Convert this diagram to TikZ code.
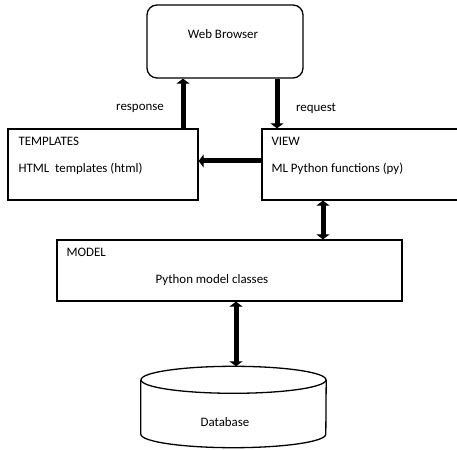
\documentclass[tikz,border=0pt]{standalone}
\usepackage{fontspec}
\setmainfont{Carlito}
\usetikzlibrary{arrows.meta}

\begin{document}
\begin{tikzpicture}[x=1pt, y=1pt,
  every node/.style={font=\fontsize{12.9}{15}\selectfont},
  box/.style={draw, line width=1.3pt, inner sep=0pt},
  txt/.style={inner sep=0pt, anchor=west},
  flow/.style={line width=5pt, -{Triangle[width=13pt,length=5pt]}},
  flowboth/.style={line width=5pt, {Triangle[width=13pt,length=5pt]}-{Triangle[width=13pt,length=5pt]}}]
\useasboundingbox (0,0) rectangle (457,449);
% boxes
\node[box, rounded corners=10pt, minimum width=156pt, minimum height=73pt] (wb) at (225,407.5) {};
\node[box, minimum width=190pt, minimum height=71pt] (tpl) at (103,284.5) {};
\node[box, minimum width=200pt, minimum height=71pt] (view) at (362,284.5) {};
\node[box, minimum width=345pt, minimum height=61pt] (model) at (229.5,178.5) {};
% database drum
\node[inner sep=0pt, minimum width=185pt, minimum height=81pt] (db) at (233.5,42) {};
\draw[line width=1.3pt] ([yshift=-13.5pt]db.north) ellipse [x radius=92.5pt, y radius=13.5pt];
\draw[line width=1.3pt] ([yshift=-13.5pt]db.north west) -- ([yshift=13.5pt]db.south west)
  arc [start angle=180, end angle=360, x radius=92.5pt, y radius=13.5pt] -- ([yshift=-13.5pt]db.north east);
% texts
\node[inner sep=0pt] (wbname) at (223,415) {Web Browser};
\node[txt] (tplname) at ([xshift=11pt,yshift=-13pt]tpl.north west) {TEMPLATES};
\node[txt] (tpltext) at ([xshift=11pt,yshift=-40pt]tpl.north west) {HTML\ \ templates (html)};
\node[txt] (viewname) at ([xshift=10pt,yshift=-13pt]view.north west) {VIEW};
\node[txt] (viewtext) at ([xshift=10pt,yshift=-40pt]view.north west) {ML Python functions (py)};
\node[txt] (modelname) at ([xshift=10pt,yshift=-13pt]model.north west) {MODEL};
\node[inner sep=0pt] (modeltext) at (212,169) {Python model classes};
\node[inner sep=0pt] (dbname) at (225,27) {Database};
\node[inner sep=0pt] (resp) at (140,341) {response};
\node[inner sep=0pt] (req) at (316,341) {request};
% arrows
\draw[flow] ([xshift=80pt]tpl.north) -- ([xshift=80pt]tpl.north |- wb.south);
\draw[flow] ([xshift=52pt]wb.south) -- ([xshift=52pt]wb.south |- view.north);
\draw[flow] ([yshift=3.5pt]view.west) -- ([yshift=3.5pt]tpl.east);
\draw[flowboth] ([xshift=93.5pt]model.north) -- ([xshift=93.5pt]model.north |- view.south);
\draw[flowboth] ([xshift=6.5pt]model.south) -- ([xshift=6.5pt]model.south |- db.north);
\end{tikzpicture}
\end{document}
